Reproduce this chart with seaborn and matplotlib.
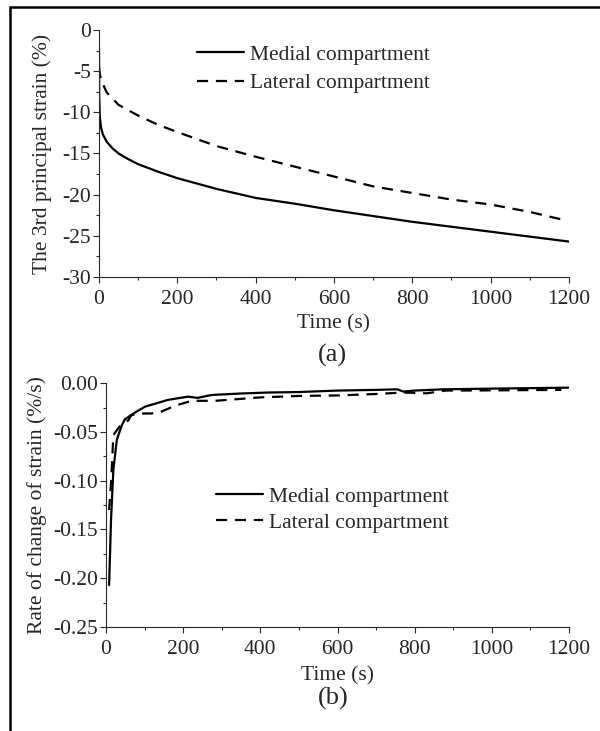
import numpy as np
import pandas as pd
import seaborn as sns
import matplotlib.pyplot as plt
from matplotlib.lines import Line2D
from matplotlib.ticker import MultipleLocator, FormatStrFormatter

sns.set_style('ticks')
plt.rcParams['font.family'] = ['Liberation Serif', 'DejaVu Serif']
plt.rcParams['axes.unicode_minus'] = False

# (a) 3rd principal strain (%)
t_med_a = [0, 0.5, 2, 5, 10, 20, 35, 50, 75, 100, 150, 200, 300, 400, 500,
           600, 700, 800, 900, 1000, 1100, 1200]
v_med_a = [-2.2, -8.0, -10.5, -11.8, -12.7, -13.6, -14.4, -15.0, -15.7, -16.3,
           -17.2, -18.0, -19.3, -20.4, -21.1, -21.9, -22.6, -23.3, -23.9,
           -24.5, -25.1, -25.7]
t_lat_a = [0, 2, 5, 10, 20, 50, 100, 150, 200, 300, 400, 500, 600, 700, 800,
           900, 1000, 1100, 1180]
v_lat_a = [-4.5, -5.4, -5.9, -6.6, -7.6, -9.1, -10.4, -11.5, -12.4, -14.1,
           -15.4, -16.6, -17.8, -19.0, -19.8, -20.6, -21.2, -22.1, -23.0]

# (b) rate of change of strain (%/s)
t_med_b = [8, 13, 19, 28, 41, 49, 71, 101, 127, 161, 213, 237, 274, 350, 420,
           500, 600, 700, 755, 770, 800, 875, 1000, 1100, 1200]
v_med_b = [-0.207, -0.140, -0.089, -0.058, -0.043, -0.037, -0.031, -0.024,
           -0.021, -0.017, -0.0137, -0.015, -0.012, -0.0105, -0.0095, -0.009,
           -0.0075, -0.0068, -0.0062, -0.0085, -0.0075, -0.0062, -0.0055,
           -0.005, -0.0045]
t_lat_b = [8, 13, 19, 36, 58, 65, 80, 101, 118, 144, 179, 222, 283, 400, 500,
           600, 700, 770, 831, 880, 1000, 1100, 1180]
v_lat_b = [-0.130, -0.103, -0.053, -0.044, -0.038, -0.033, -0.031, -0.031,
           -0.031, -0.029, -0.023, -0.018, -0.018, -0.0145, -0.013, -0.0125,
           -0.011, -0.0095, -0.0103, -0.0075, -0.0073, -0.007, -0.0068]

labels = ['Medial compartment', 'Lateral compartment']
FS = 15.5

fig = plt.figure(figsize=(6, 7.31), dpi=100)
ax1 = fig.add_axes([0.165, 0.6211, 0.7833, 0.3379])
ax2 = fig.add_axes([0.1767, 0.1423, 0.7717, 0.3334])


def draw(ax, tm, vm, tl, vl, lpad):
    sns.lineplot(x=tm, y=vm, ax=ax, color='black', lw=1.6, label=labels[0])
    sns.lineplot(x=tl, y=vl, ax=ax, color='black', lw=1.6, label=labels[1],
                 linestyle=(0, (5, 3.5)))
    sns.despine(ax=ax)
    ax.set_xlim(0, 1200)
    ax.xaxis.set_major_locator(MultipleLocator(200))
    ax.xaxis.set_minor_locator(MultipleLocator(100))
    ax.tick_params(which='major', direction='out', length=4, width=0.8,
                   labelsize=FS, pad=2)
    ax.tick_params(axis='x', which='major', pad=5.5)
    ax.tick_params(which='minor', direction='out', length=2.5, width=0.8)
    for s in ax.spines.values():
        s.set_linewidth(0.8)
    ax.set_xlabel('Time (s)', fontsize=FS, labelpad=lpad)
    ax.set_facecolor('none')


draw(ax1, t_med_a, v_med_a, t_lat_a, v_lat_a, 4)
ax1.set_ylim(-30, 0)
ax1.yaxis.set_major_locator(MultipleLocator(5))
ax1.yaxis.set_minor_locator(MultipleLocator(2.5))
ax1.set_ylabel('The 3rd principal strain (%)', fontsize=FS, labelpad=7.5)
ax1.legend(loc='upper left', bbox_to_anchor=(0.2085, 0.94), frameon=False,
           fontsize=FS, borderpad=0, borderaxespad=0, handlelength=2.2,
           handletextpad=0.25, labelspacing=0.38)

draw(ax2, t_med_b, v_med_b, t_lat_b, v_lat_b, 5)
ax2.set_ylim(-0.25, 0)
ax2.yaxis.set_major_locator(MultipleLocator(0.05))
ax2.yaxis.set_minor_locator(MultipleLocator(0.025))
ax2.yaxis.set_major_formatter(FormatStrFormatter('%.2f'))
ax2.set_ylabel('Rate of change of strain (%/s)', fontsize=FS, labelpad=4)
ax2.legend(loc='upper left', bbox_to_anchor=(0.2376, 0.575), frameon=False,
           fontsize=FS, borderpad=0, borderaxespad=0, handlelength=2.2,
           handletextpad=0.25, labelspacing=0.27)

fig.text(332 / 600, 1 - 355 / 731, '(a)', fontsize=19, ha='center', va='center')
fig.text(333 / 600, 1 - 698 / 731, '(b)', fontsize=19, ha='center', va='center')

# outer frame (top and left only)
fig.add_artist(Line2D([10 / 600, 1], [1 - 7 / 731, 1 - 7 / 731],
                      transform=fig.transFigure, color='black', lw=1.8))
fig.add_artist(Line2D([10 / 600, 10 / 600], [0, 1 - 7 / 731],
                      transform=fig.transFigure, color='black', lw=1.8))

fig.savefig('out.png', dpi=100)
